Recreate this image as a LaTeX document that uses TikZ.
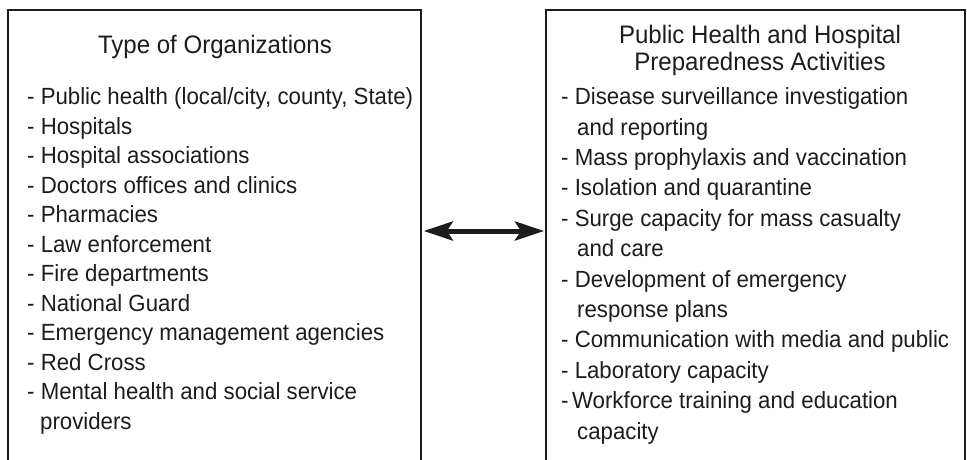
\documentclass[tikz,border=0pt]{standalone}
\usepackage{fontspec}
\setmainfont{Liberation Sans}[FakeStretch=0.95]
\usetikzlibrary{arrows.meta}
\definecolor{ink}{HTML}{1C1C1C}
\begin{document}
\begin{tikzpicture}[x=1pt,y=-1pt,
  panel/.style={draw=ink, line width=1.8pt, inner sep=0pt, anchor=north west},
  title/.style={font=\fontsize{25.3}{30}\selectfont, text=ink, inner sep=0pt, anchor=mid},
  entry/.style={font=\fontsize{23.4}{29}\selectfont, text=ink, inner sep=0pt, anchor=mid west},
  twoway/.style={{Stealth[length=29pt,width=19pt,inset=6pt]}-{Stealth[length=29pt,width=19pt,inset=6pt]},
                 line width=5pt, draw=ink}]
\useasboundingbox (0,0) rectangle (967,460);
\clip (0,0) rectangle (967,460);

% the two panels run off the lower edge
\node[panel, minimum width=413pt, minimum height=480pt] (orgs) at (7,9) {};
\node[panel, minimum width=419pt, minimum height=480pt] (acts) at (545,9) {};

% left panel: heading and list
\node[title] (orgsTitle) at (215,51) {Type of Organizations};
\foreach \x/\t [count=\i] in {
  27/{- Public health (local/city, county, State)},
  27/{- Hospitals},
  27/{- Hospital associations},
  27/{- Doctors offices and clinics},
  27/{- Pharmacies},
  27/{- Law enforcement},
  27/{- Fire departments},
  27/{- National Guard},
  27/{- Emergency management agencies},
  27/{- Red Cross},
  27/{- Mental health and social service},
  40/{providers}}
  \node[entry] (org\i) at (\x, {102+29.5*(\i-1)}) {\t};

% right panel: heading and list
\node[title] (actsTitleA) at (760,41) {Public Health and Hospital};
\node[title] (actsTitleB) at (760,68) {Preparedness Activities};
\foreach \x/\t [count=\i] in {
  561/{- Disease surveillance investigation},
  577/{and reporting},
  561/{- Mass prophylaxis and vaccination},
  561/{- Isolation and quarantine},
  561/{- Surge capacity for mass casualty},
  577/{and care},
  561/{- Development of emergency},
  577/{response plans},
  561/{- Communication with media and public},
  561/{- Laboratory capacity},
  561/{-\hspace{3.5pt}Workforce training and education},
  577/{capacity}}
  \node[entry] (act\i) at (\x, {102+30.4*(\i-1)}) {\t};

% two-way link between the panels
\coordinate (lvl) at (0,231);
\draw[twoway, shorten <=2pt, shorten >=1pt] (orgs.east |- lvl) -- (acts.west |- lvl);
\end{tikzpicture}
\end{document}
